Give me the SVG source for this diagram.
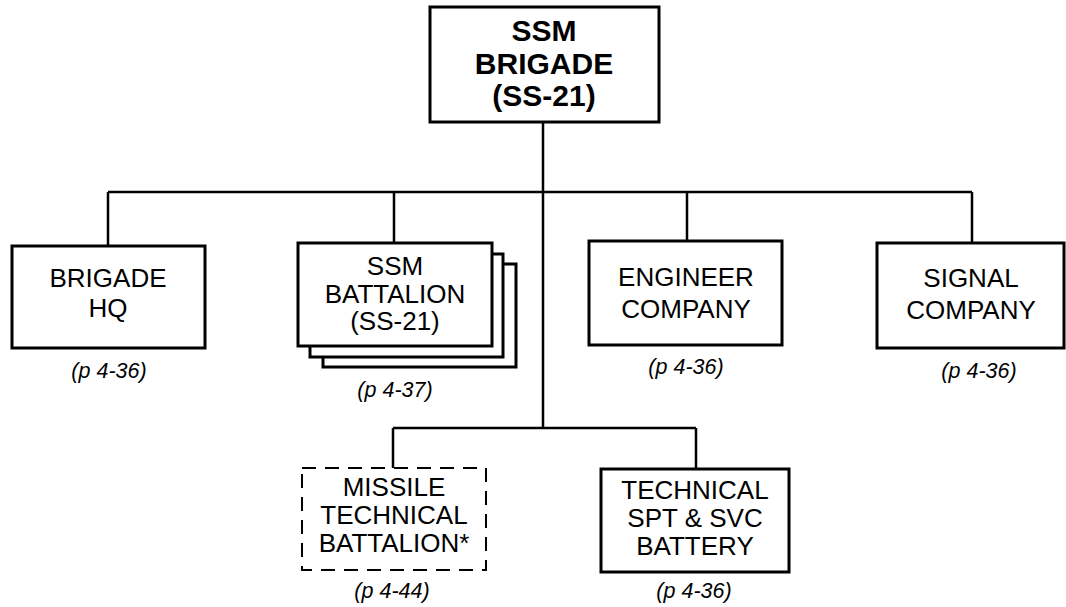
<svg xmlns="http://www.w3.org/2000/svg" width="1066" height="607" viewBox="0 0 1066 607">
<style>
.box{fill:#fff;stroke:#000;stroke-width:3}
.dash{fill:#fff;stroke:#000;stroke-width:2;stroke-dasharray:14 9}
.ln{fill:none;stroke:#000;stroke-width:2.5}
.t{font-family:"Liberation Sans",Arial,sans-serif;font-size:26px;fill:#000;text-anchor:middle}
.tb{font-family:"Liberation Sans",Arial,sans-serif;font-size:30px;font-weight:bold;fill:#000;text-anchor:middle}
.p{font-family:"Liberation Sans",Arial,sans-serif;font-size:21.5px;font-style:italic;fill:#000;text-anchor:middle}
</style>
<rect width="1066" height="607" fill="#fff"/>
<g id="connectors">
<path class="ln" d="M543 122V428M108 192H972M108 192V246M394 192V243M687 192V241M972 192V243M393 428H696M393 428V468M696 428V469"/>
</g>
<g id="ssm-brigade">
<rect class="box" x="430" y="7" width="229" height="115"/>
<text class="tb" x="544" y="41">SSM</text>
<text class="tb" x="544" y="74">BRIGADE</text>
<text class="tb" x="544" y="106">(SS-21)</text>
</g>
<g id="brigade-hq">
<rect class="box" x="12" y="246" width="193" height="102"/>
<text class="t" x="108" y="287">BRIGADE</text>
<text class="t" x="108" y="317">HQ</text>
<text class="p" x="109" y="378">(p 4-36)</text>
</g>
<g id="ssm-battalion">
<rect class="box" x="323" y="264" width="193" height="103"/>
<rect class="box" x="310" y="254" width="193" height="103"/>
<rect class="box" x="298" y="243" width="194" height="103"/>
<text class="t" x="395" y="275">SSM</text>
<text class="t" x="395" y="303">BATTALION</text>
<text class="t" x="395" y="330">(SS-21)</text>
<text class="p" x="395" y="397">(p 4-37)</text>
</g>
<g id="engineer-company">
<rect class="box" x="589" y="241" width="193" height="104"/>
<text class="t" x="686" y="286">ENGINEER</text>
<text class="t" x="686" y="318">COMPANY</text>
<text class="p" x="686" y="374">(p 4-36)</text>
</g>
<g id="signal-company">
<rect class="box" x="877" y="243" width="187" height="105"/>
<text class="t" x="971" y="287">SIGNAL</text>
<text class="t" x="971" y="319">COMPANY</text>
<text class="p" x="979" y="378">(p 4-36)</text>
</g>
<g id="missile-technical-battalion">
<rect class="dash" x="302" y="468" width="184" height="102"/>
<text class="t" x="394" y="496">MISSILE</text>
<text class="t" x="394" y="524">TECHNICAL</text>
<text class="t" x="394" y="552">BATTALION*</text>
<text class="p" x="392" y="598">(p 4-44)</text>
</g>
<g id="technical-spt-svc-battery">
<rect class="box" x="601" y="469" width="188" height="103"/>
<text class="t" x="695" y="499">TECHNICAL</text>
<text class="t" x="695" y="527">SPT &amp; SVC</text>
<text class="t" x="695" y="555">BATTERY</text>
<text class="p" x="694" y="598">(p 4-36)</text>
</g>
</svg>
